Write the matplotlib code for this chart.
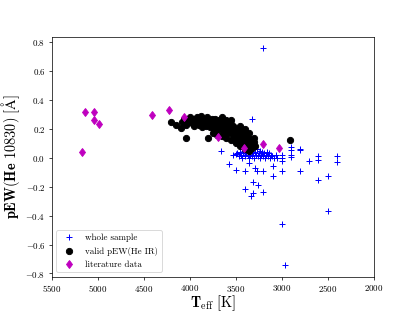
import matplotlib
matplotlib.use('Agg')
import matplotlib.pyplot as plt

plt.rcParams['font.family'] = 'cmr10'
plt.rcParams['mathtext.fontset'] = 'cm'
plt.rcParams['axes.formatter.use_mathtext'] = True

# stars with a valid He IR measurement
teff_valid = [4200, 4150, 4095, 4035, 3806, 3998, 4080, 4060, 4040, 4020, 4000,
              3980, 3960, 3950, 3940, 3920, 3900, 3890, 3880, 3870, 3860, 3850,
              3840, 3830, 3820, 3810, 3800, 3790, 3780, 3770, 3760, 3750, 3740,
              3730, 3720, 3710, 3700, 3690, 3680, 3670, 3660, 3650, 3640, 3630,
              3620, 3610, 3600, 3590, 3580, 3570, 3560, 3550, 3540, 3530, 3520,
              3510, 3500, 3490, 3480, 3470, 3460, 3450, 3440, 3430, 3420, 3410,
              3400, 3390, 3380, 3370, 3360, 3350, 3340, 3330, 3320, 3310, 3300,
              3290, 2910, 3750, 3700, 3650, 3600, 3550, 3500, 3450, 3400, 3350,
              3650, 3550, 3450, 3400, 3350, 3300]
pew_valid = [0.25, 0.23, 0.205, 0.135, 0.14, 0.26, 0.25, 0.27, 0.23, 0.25, 0.28,
             0.24, 0.27, 0.22, 0.25, 0.28, 0.23, 0.26, 0.29, 0.21, 0.25, 0.27,
             0.23, 0.26, 0.22, 0.28, 0.24, 0.26, 0.21, 0.25, 0.27, 0.23, 0.19,
             0.25, 0.27, 0.22, 0.24, 0.20, 0.26, 0.23, 0.25, 0.21, 0.18, 0.24,
             0.22, 0.26, 0.20, 0.23, 0.17, 0.25, 0.21, 0.19, 0.23, 0.16, 0.21,
             0.18, 0.14, 0.20, 0.17, 0.12, 0.19, 0.15, 0.11, 0.17, 0.13, 0.10,
             0.16, 0.12, 0.09, 0.14, 0.11, 0.08, 0.13, 0.10, 0.07, 0.09, 0.11,
             0.08, 0.124, 0.17, 0.16, 0.15, 0.14, 0.12, 0.10, 0.08, 0.06, 0.05,
             0.28, 0.26, 0.22, 0.20, 0.17, 0.14]

# remaining stars of the sample
teff_rest = [3480, 3460, 3450, 3440, 3430, 3420, 3410, 3400, 3390, 3380, 3370,
             3360, 3350, 3340, 3330, 3320, 3310, 3300, 3290, 3280, 3270, 3260,
             3250, 3240, 3230, 3220, 3210, 3200, 3190, 3180, 3170, 3160, 3150,
             3140, 3130, 3120, 3100, 3080, 3060, 3050,
             3661, 3527, 3498, 3400, 3571, 3498, 3400, 3353, 3291, 3266, 3201,
             3099, 3099, 3001, 3001, 3001, 3001, 2903, 2903, 2903, 2903, 2802,
             2802, 2795, 2700, 2603, 2603, 2603, 2500, 2402, 2402, 3310, 3255,
             3400, 3201, 3310, 3338, 2500, 3001, 2965, 3201, 3327]
pew_rest = [0.03, 0.01, 0.04, 0.02, 0.0, 0.03, 0.05, 0.01, 0.03, 0.06, 0.02,
            0.0, 0.04, 0.02, 0.05, 0.01, 0.03, 0.0, 0.04, 0.02, 0.06, 0.01,
            0.03, 0.0, 0.05, 0.02, 0.04, 0.01, 0.03, 0.0, 0.02, 0.04, 0.01,
            0.03, 0.0, 0.02, 0.01, 0.0, 0.02, 0.0,
            0.048, 0.021, 0.025, 0.016, -0.043, -0.085, -0.094, -0.037, -0.071,
            -0.088, -0.09, -0.055, -0.124, -0.09, 0.021, -0.002, -0.025, 0.078,
            0.055, 0.021, 0.005, 0.06, -0.088, 0.055, -0.019, 0.009, -0.014,
            -0.157, -0.124, 0.009, -0.032, -0.168, -0.186, -0.214, -0.237,
            -0.243, -0.265, -0.37, -0.455, -0.74, 0.761, 0.269]

teff_all = teff_rest + teff_valid
pew_all = pew_rest + pew_valid

# literature values
teff_lit = [5138, 5040, 5040, 4989, 5170, 4409, 4227, 4067, 3697, 3411, 3201, 3030]
pew_lit = [0.32, 0.315, 0.262, 0.232, 0.043, 0.297, 0.329, 0.28, 0.143, 0.071,
           0.094, 0.069]

fig, ax = plt.subplots(figsize=(6.4, 4.8))
ax.plot(teff_all, pew_all, 'b+', ms=7, mew=1.1, label='whole sample')
ax.plot(teff_valid, pew_valid, 'ko', ms=7, label='valid pEW(He IR)')
ax.plot(teff_lit, pew_lit, 'md', ms=7, label='literature data')

ax.set_xlim(5500, 2000)
ax.set_ylim(-0.823, 0.835)
ax.set_xlabel(r'$\mathbf{T}_{\mathrm{eff}}\ [\mathrm{K}]$', fontsize=16, labelpad=-1)
ax.set_ylabel(r'$\mathbf{pEW(He\ 10830)}\ [\mathrm{\AA}]$', fontsize=16)
ax.legend(loc='lower left', fontsize=10)

fig.savefig('out.png', dpi=415 / 6.4)
